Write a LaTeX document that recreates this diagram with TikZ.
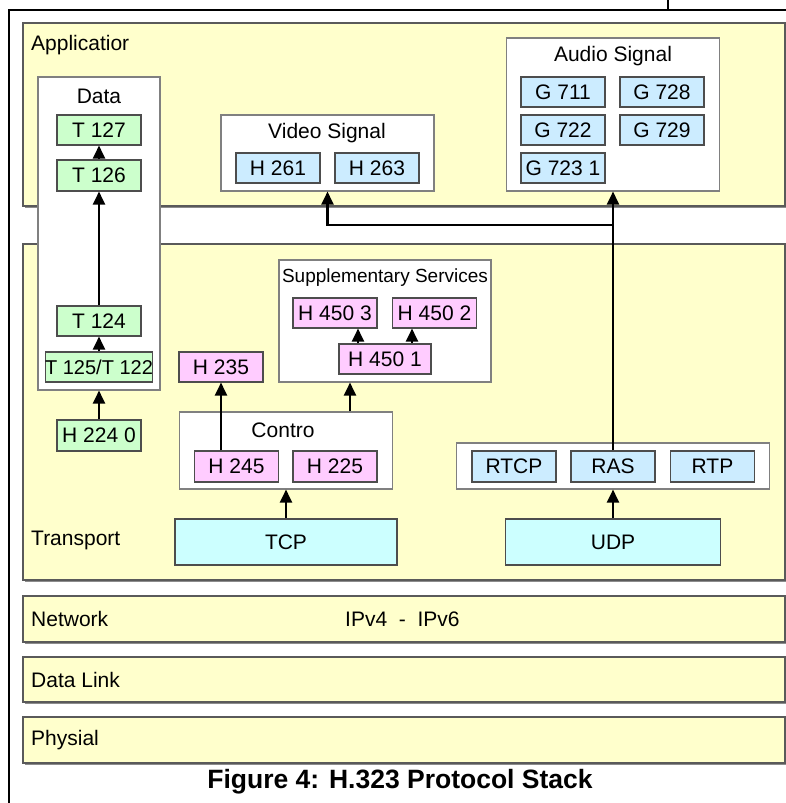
\documentclass[tikz,border=0pt]{standalone}
\usepackage{fontspec}
\setmainfont{Liberation Sans}
\usepackage{tikz}
\usetikzlibrary{arrows.meta,calc,shadows}
\definecolor{bandfill}{HTML}{FFFFCC}
\definecolor{bandline}{HTML}{5A5A5A}
\definecolor{grpline}{HTML}{808080}
\definecolor{boxline}{HTML}{4D4D4D}
\definecolor{sigblue}{HTML}{CCECFF}
\definecolor{datagreen}{HTML}{CCFFCC}
\definecolor{ctrlpink}{HTML}{FFCCFF}
\definecolor{transcyan}{HTML}{CCFFFF}
\tikzset{
  band/.style={draw=bandline, fill=bandfill, line width=1.2pt, minimum width=762pt, inner sep=0pt,
    drop shadow={shadow xshift=1.5pt, shadow yshift=-1.5pt, fill=black!45, opacity=1}},
  grp/.style={draw=grpline, fill=white, line width=1.1pt, inner sep=0pt},
  proto/.style={draw=boxline, fill=#1, line width=1.1pt, minimum width=84pt, minimum height=30pt,
    inner sep=0pt, font=\fontsize{21}{25}\selectfont},
  lbl/.style={inner sep=0pt, font=\fontsize{21}{25}\selectfont},
  up/.style={-{Triangle[length=13pt,width=12pt]}, line width=2.4pt},
}
\begin{document}
\begin{tikzpicture}[x=1pt,y=-1pt]
\useasboundingbox (0,0) rectangle (786,803);

\draw[line width=2pt] (9,803) -- (9,9.5) -- (786,9.5);
\draw[line width=2pt] (668,0) -- (668,9.5);

\foreach \n/\yc/\h in {app/114.5/183, trans/412/336, net/619/46, dlink/679.5/45, phys/740/46}
    \node[band, minimum height=\h pt] (\n) at (404,\yc) {};

\node[lbl, anchor=west] (applbl) at (31,45) {Applicatior};
\node[lbl, anchor=west] (translbl) at (31,540) {Transport};
\node[lbl, anchor=west] (netlbl) at (31,619) {Network};
\node[lbl, anchor=west] (iplbl) at (345,619) {IPv4\ \ -\ \ IPv6};
\node[lbl, anchor=west] (dlinklbl) at (31,680) {Data Link};
\node[lbl, anchor=west] (physlbl) at (31,740) {Physial};

\node[grp, minimum width=122pt, minimum height=313pt] (data) at (99,233.5) {};
\node[lbl] (datalbl) at (99,96) {Data};
\node[proto=datagreen] (t127) at (99,130) {T 127};
\node[proto=datagreen, minimum height=31pt] (t126) at (99,175.5) {T 126};
\node[proto=datagreen] (t124) at (99,321) {T 124};
\node[proto=datagreen, minimum width=107pt, font=\fontsize{20}{24}\selectfont] (t125) at (99,367) {T 125/T 122};
\node[proto=datagreen, minimum height=31pt] (h224) at (99,435.5) {H 224 0};

\node[grp, minimum width=213pt, minimum height=76pt] (video) at (327.5,153) {};
\node[lbl] (videolbl) at (327,133) {Video Signal};
\node[proto=sigblue] (h261) at (278,168) {H 261};
\node[proto=sigblue] (h263) at (377,168) {H 263};

\node[grp, minimum width=213pt, minimum height=153pt] (audio) at (613,114.5) {};
\node[lbl] (audiolbl) at (613,56) {Audio Signal};
\foreach \n/\x/\y/\t in {g711/563/92/G 711, g728/662/92/G 728, g722/563/130/G 722, g729/662/130/G 729, g7231/563/168/G 723 1}
    \node[proto=sigblue] (\n) at (\x,\y) {\t};

\node[grp, minimum width=212pt, minimum height=122pt] (supp) at (385,321) {};
\node[lbl, font=\fontsize{19}{23}\selectfont] (supplbl) at (385,278) {Supplementary Services};
\node[proto=ctrlpink] (h4503) at (335,313) {H 450 3};
\node[proto=ctrlpink] (h4502) at (434.5,313) {H 450 2};
\node[proto=ctrlpink, minimum width=92pt] (h4501) at (385,359) {H 450 1};

\node[proto=ctrlpink] (h235) at (221,367) {H 235};

\node[grp, minimum width=213pt, minimum height=77pt] (ctrl) at (286,450.5) {};
\node[lbl] (ctrllbl) at (283,430) {Contro};
\node[proto=ctrlpink, minimum height=31pt] (h245) at (236.5,466.5) {H 245};
\node[proto=ctrlpink, minimum height=31pt] (h225) at (335,466.5) {H 225};

\node[proto=transcyan, minimum width=222pt, minimum height=46pt] (tcp) at (286,542) {TCP};

\node[grp, minimum width=313pt, minimum height=46pt] (rtgrp) at (613,466) {};
\node[proto=sigblue, minimum height=31pt] (rtcp) at (514,466.5) {RTCP};
\node[proto=sigblue, minimum height=31pt] (ras) at (613,466.5) {RAS};
\node[proto=sigblue, minimum height=31pt] (rtp) at (712.5,466.5) {RTP};
\node[proto=transcyan, minimum width=215pt, minimum height=46pt] (udp) at (613,542) {UDP};

\coordinate (ctrltap) at (350,0);
\coordinate (ssleft) at (358,0);
\coordinate (ssright) at (412,0);
\coordinate (split) at (613,225);

\draw[up] (t126.north) -- (t127.south);
\draw[up] (t124.north) -- (t126.south);
\draw[up] (t125.north) -- (t124.south);
\draw[up] (h224.north) -- (data.south);
\draw[up] (h245.north -| h235.south) -- (h235.south);
\draw[up] (ctrl.north -| ctrltap) -- (supp.south -| ctrltap);
\draw[up] (h4501.north -| ssleft) -- (h4503.south -| ssleft);
\draw[up] (h4501.north -| ssright) -- (h4502.south -| ssright);
\draw[up] (tcp.north) -- (ctrl.south);
\draw[up] (udp.north) -- (rtgrp.south);
\draw[up] (ras.north) -- (audio.south);
\draw[up] (split) -| (video.south);

\node[inner sep=0pt, font=\fontsize{26.5}{30}\selectfont\bfseries] (caption) at (400,782) {Figure 4: H.323 Protocol Stack};
\end{tikzpicture}
\end{document}
